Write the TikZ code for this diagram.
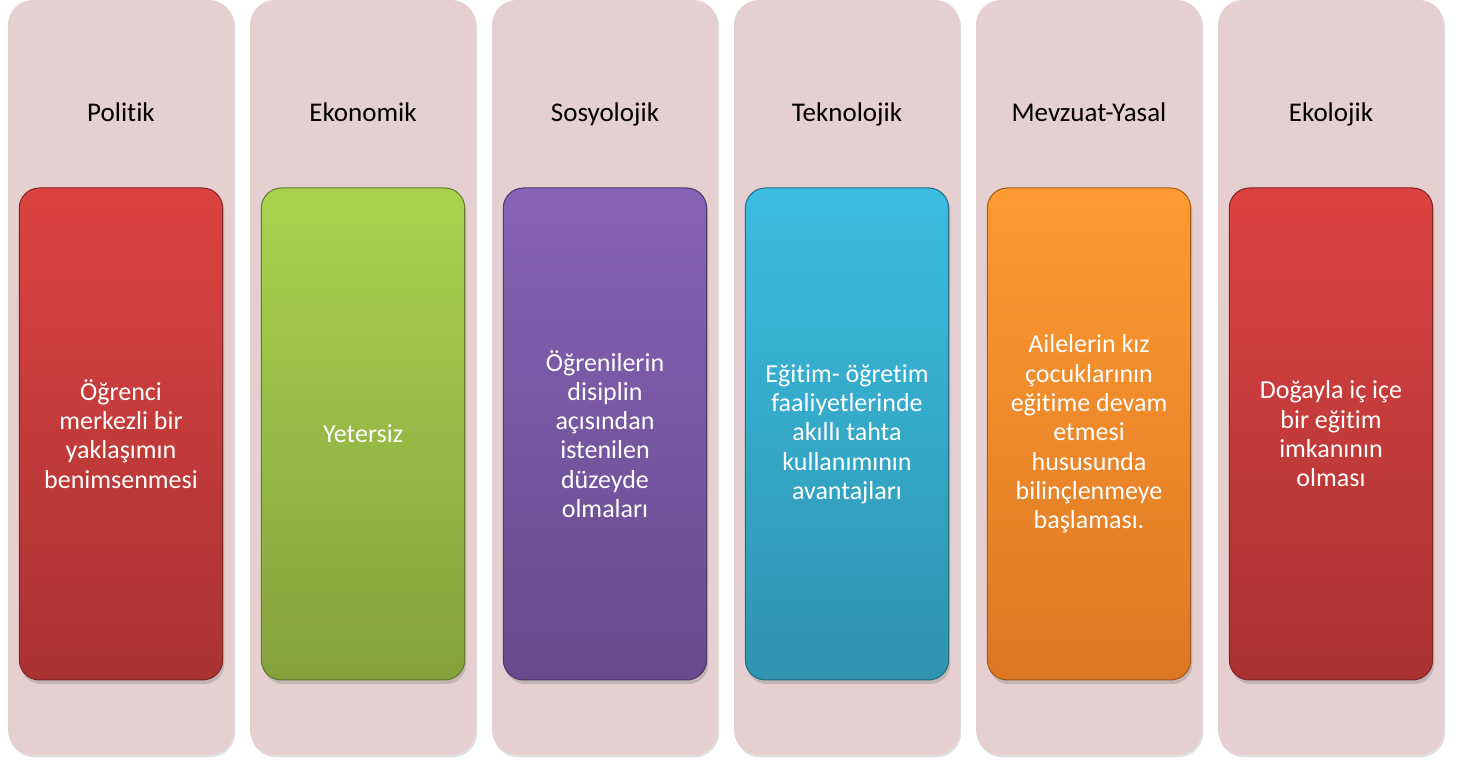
\documentclass[tikz,border=0pt]{standalone}
\usepackage{fontspec}
\setmainfont{Carlito}[Ligatures=NoCommon]
\usetikzlibrary{positioning,shadows}
\definecolor{panel-color}{HTML}{E6CFD0}
\definecolor{red-top}{HTML}{DC4341}
\definecolor{red-bot}{HTML}{A93331}
\definecolor{green-top}{HTML}{A9D34E}
\definecolor{green-bot}{HTML}{83A23D}
\definecolor{purple-top}{HTML}{8862B6}
\definecolor{purple-bot}{HTML}{674B8C}
\definecolor{cyan-top}{HTML}{3CBDE2}
\definecolor{cyan-bot}{HTML}{2E93AE}
\definecolor{orange-top}{HTML}{FE9A31}
\definecolor{orange-bot}{HTML}{DC7823}
\tikzset{
  panel/.style={rectangle, fill=panel-color, rounded corners=12.5pt, outer sep=0,
    minimum width=113pt, minimum height=377.5pt, anchor=north,
    drop shadow={shadow xshift=0.6pt, shadow yshift=-1.2pt, opacity=0.25}},
  title/.style={font=\fontsize{13.5}{16}\selectfont, text=black, anchor=base},
  card/.style={rectangle, rounded corners=10pt, outer sep=0, draw=#1-bot!75!black,
    line width=0.5pt, top color=#1-top, bottom color=#1-bot,
    minimum width=101pt, minimum height=246pt, text width=95pt, align=flush center,
    text=white, font=\fontsize{13}{14.65}\selectfont,
    drop shadow={shadow xshift=0.8pt, shadow yshift=-2pt, opacity=0.35}}
}
\begin{document}
\begin{tikzpicture}
  \useasboundingbox (0,0) rectangle (734pt,-381.5pt);
  % background panels
  \node[panel] (pol) at (60.5pt,0) {};
  \node[panel, right=8pt of pol] (eko) {};
  \node[panel, right=8pt of eko] (sos) {};
  \node[panel, right=8pt of sos] (tek) {};
  \node[panel, right=8pt of tek] (mev) {};
  \node[panel, right=8pt of mev] (ekl) {};
  % headings
  \node[title] (polT) at ([yshift=-61pt]pol.north) {Politik};
  \node[title] (ekoT) at ([yshift=-61pt]eko.north) {Ekonomik};
  \node[title] (sosT) at ([yshift=-61pt]sos.north) {Sosyolojik};
  \node[title] (tekT) at ([yshift=-61pt]tek.north) {Teknolojik};
  \node[title] (mevT) at ([yshift=-61pt]mev.north) {Mevzuat-Yasal};
  \node[title] (eklT) at ([yshift=-61pt]ekl.north) {Ekolojik};
  % cards
  \node[card=red, below=94pt of pol.north] (polC)
    {Öğrenci\\ merkezli bir\\ yaklaşımın\\ benimsenmesi};
  \node[card=green, below=94pt of eko.north] (ekoC) {Yetersiz};
  \node[card=purple, below=94pt of sos.north] (sosC)
    {Öğrenilerin\\ disiplin\\ açısından\\ istenilen\\ düzeyde\\ olmaları};
  \node[card=cyan, below=94pt of tek.north] (tekC)
    {Eğitim- öğretim\\ faaliyetlerinde\\ akıllı tahta\\ kullanımının\\ avantajları};
  \node[card=orange, below=94pt of mev.north] (mevC)
    {Ailelerin kız\\ çocuklarının\\ eğitime devam\\ etmesi\\ hususunda\\ bilinçlenmeye\\ başlaması.};
  \node[card=red, below=94pt of ekl.north] (eklC)
    {Doğayla iç içe\\ bir eğitim\\ imkanının\\ olması};
\end{tikzpicture}
\end{document}
